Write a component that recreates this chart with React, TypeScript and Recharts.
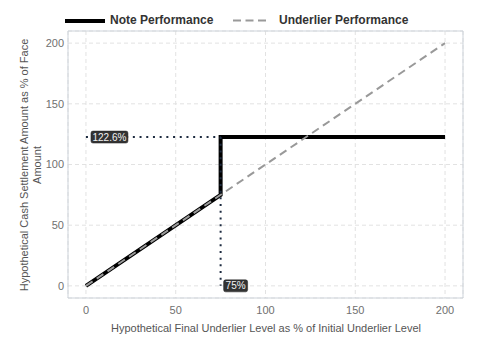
import React from "react";
import {
  ComposedChart,
  Line,
  XAxis,
  YAxis,
  CartesianGrid,
  ReferenceArea,
  ReferenceDot,
  Label,
} from "recharts";

const noteX = [0, 75, 75, 200];
const noteY = [0, 75, 122.6, 122.6];
const underX = [0, 200];
const underY = [0, 200];
const capLevel = 122.6;
const barrierLevel = 75;
const xTicks = [0, 50, 100, 150, 200];
const yTicks = [0, 50, 100, 150, 200];
const capLabel = "122.6%";
const barrierLabel = "75%";
const seriesNames = ["Note Performance", "Underlier Performance"];

const noteData = noteX.map((x, i) => ({ x, y: noteY[i] }));
const underData = underX.map((x, i) => ({ x, y: underY[i] }));
const hGuide = [
  { x: 0, y: capLevel },
  { x: barrierLevel, y: capLevel },
];
const vGuide = [
  { x: barrierLevel, y: capLevel },
  { x: barrierLevel, y: 0 },
];

const FONT = "Liberation Sans, Arial, sans-serif";

const makeTag = (text: string, w: number, dx: number) => (props: any) => {
  const { cx, cy } = props;
  if (cx == null || cy == null) return <g />;
  return (
    <g>
      <rect x={cx + dx} y={cy - 6} width={w} height={12} rx={2} fill="#333" stroke="#222" strokeWidth={0.5} />
      <text x={cx + dx + w / 2} y={cy + 3.5} textAnchor="middle" fontSize={10} fill="#f2f2f2" fontFamily={FONT}>
        {text}
      </text>
    </g>
  );
};

function LegendBar() {
  const txt: React.CSSProperties = {
    position: "absolute",
    top: 13,
    fontFamily: FONT,
    fontSize: 12,
    fontWeight: "bold",
    color: "#333",
    whiteSpace: "nowrap",
    lineHeight: "14px",
  };
  return (
    <>
      <svg width={480} height={30} style={{ position: "absolute", left: 0, top: 0 }}>
        <line x1={65} y1={21} x2={105} y2={21} stroke="#000" strokeWidth={4} />
        <line x1={233} y1={20.5} x2={266} y2={20.5} stroke="#9a9a9a" strokeWidth={2} strokeDasharray="8 4.5" />
      </svg>
      <span style={{ ...txt, left: 110 }}>{seriesNames[0]}</span>
      <span style={{ ...txt, left: 279 }}>{seriesNames[1]}</span>
    </>
  );
}

export default function App() {
  return (
    <div style={{ position: "absolute", left: 0, top: 0, width: 480, height: 360, background: "#fff", fontFamily: FONT }}>
      <LegendBar />
      <ComposedChart width={480} height={360} margin={{ top: 31, right: 17, bottom: 32, left: 0 }}>
        <CartesianGrid stroke="#e2e2e2" strokeDasharray="4 3" />
        <XAxis
          dataKey="x"
          type="number"
          domain={[-10, 210]}
          ticks={xTicks}
          allowDataOverflow
          tickLine={false}
          axisLine={false}
          tick={{ fill: "#707070", fontSize: 11, fontFamily: FONT }}
          height={30}
        >
          <Label
            content={() => (
              <text x={266} y={332} textAnchor="middle" fontSize={11} fill="#555" fontFamily={FONT}>
                Hypothetical Final Underlier Level as % of Initial Underlier Level
              </text>
            )}
          />
        </XAxis>
        <YAxis
          type="number"
          domain={[-10, 210]}
          ticks={yTicks}
          allowDataOverflow
          tickLine={false}
          axisLine={false}
          tickSize={2}
          tickMargin={2}
          tick={{ fill: "#707070", fontSize: 11, fontFamily: FONT }}
          width={68}
        >
          <Label
            content={() => (
              <text transform="translate(28,165) rotate(-90)" textAnchor="middle" fontSize={11} fill="#555" fontFamily={FONT}>
                <tspan x={0} dy={0}>Hypothetical Cash Settlement Amount as % of Face</tspan>
                <tspan x={0} dy={13}>Amount</tspan>
              </text>
            )}
          />
        </YAxis>
        <ReferenceArea x1={-10} x2={210} y1={-10} y2={210} fill="none" stroke="#cdd3da" strokeWidth={1} ifOverflow="visible" />
        <Line data={noteData} dataKey="y" type="linear" stroke="#000" strokeWidth={4} dot={false} isAnimationActive={false} />
        <Line data={underData} dataKey="y" type="linear" stroke="#999" strokeWidth={2} strokeDasharray="8 5" dot={false} isAnimationActive={false} />
        <Line data={hGuide} dataKey="y" type="linear" stroke="#1d2b40" strokeWidth={2} strokeDasharray="2 4.7" dot={false} isAnimationActive={false} />
        <Line data={vGuide} dataKey="y" type="linear" stroke="#1d2b40" strokeWidth={2} strokeDasharray="2 4.7" dot={false} isAnimationActive={false} />
        <ReferenceDot x={0} y={capLevel} r={0} shape={makeTag(capLabel, 37, 5)} ifOverflow="visible" />
        <ReferenceDot x={barrierLevel} y={0} r={0} shape={makeTag(barrierLabel, 24, 3)} ifOverflow="visible" />
      </ComposedChart>
    </div>
  );
}
